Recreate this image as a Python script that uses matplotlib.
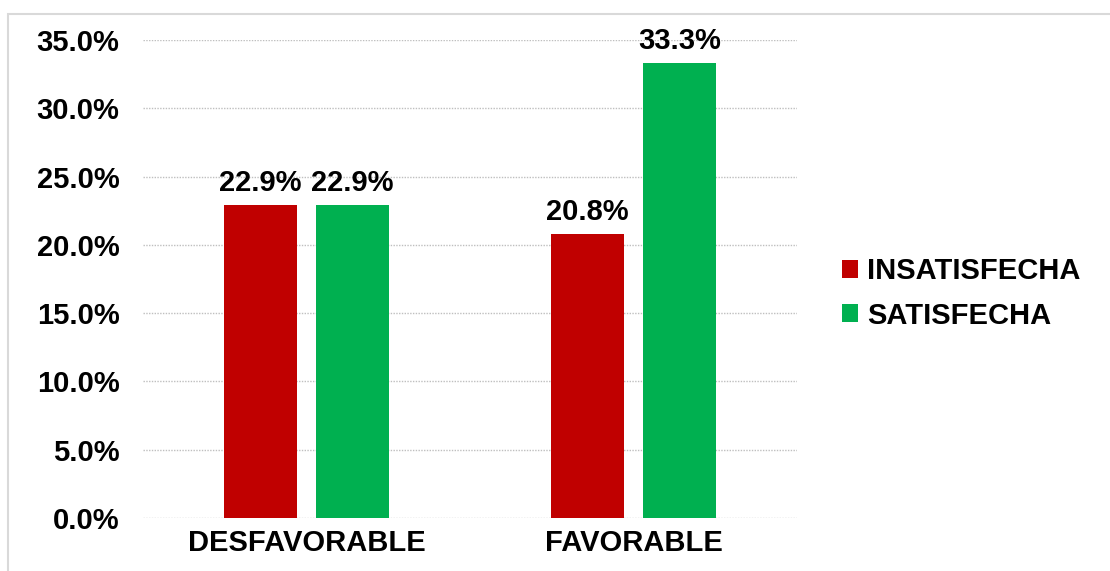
import matplotlib.pyplot as plt
import numpy as np
from matplotlib.patches import Rectangle

plt.rcParams['font.family'] = ['Liberation Sans', 'DejaVu Sans']
plt.rcParams['font.weight'] = 'bold'

categories = ['DESFAVORABLE', 'FAVORABLE']
series_names = ['INSATISFECHA', 'SATISFECHA']
insatisfecha = [22.9, 20.8]
satisfecha = [22.9, 33.3]
colors = ['#C00000', '#00B050']

fig = plt.figure(figsize=(11.1, 5.71), dpi=100)
ax = fig.add_axes([0.129, 0.093, 0.589, 0.837])

x = np.arange(len(categories))
w = 0.223
off = 0.141
b1 = ax.bar(x - off, insatisfecha, w, color=colors[0], label=series_names[0])
b2 = ax.bar(x + off, satisfecha, w, color=colors[1], label=series_names[1])

for bars, vals in [(b1, insatisfecha), (b2, satisfecha)]:
    for r, v in zip(bars, vals):
        ax.text(r.get_x() + r.get_width() / 2, v + 0.6, f'{v:.1f}%',
                ha='center', va='bottom', fontsize=21, fontweight='bold')

ax.set_xlim(-0.5, 1.5)
ax.set_ylim(0, 35)
ax.set_yticks(np.arange(0, 35.1, 5))
ax.set_yticklabels([f'{t:.1f}%' for t in np.arange(0, 35.1, 5)])
ax.set_xticks(x)
ax.set_xticklabels(categories)
ax.tick_params(axis='both', length=0, labelsize=21)
ax.tick_params(axis='y', pad=17)
ax.tick_params(axis='x', pad=8)
for s in ax.spines.values():
    s.set_visible(False)
ax.yaxis.grid(True, color='#BFBFBF', linestyle=(0, (1, 1)), linewidth=1)
ax.set_axisbelow(True)

leg = fig.legend(loc='center left', bbox_to_anchor=(0.735, 0.486), frameon=False,
                 fontsize=21, handlelength=0.55, handleheight=0.55, handletextpad=0.3,
                 labelspacing=0.55)

# chart border
fig.patches.append(Rectangle((0.007, -0.1), 1.1, 0.875 + 0.2, transform=fig.transFigure,
                             fill=False, edgecolor='#D9D9D9', linewidth=1.5))

fig.savefig('out.png', dpi=100)
